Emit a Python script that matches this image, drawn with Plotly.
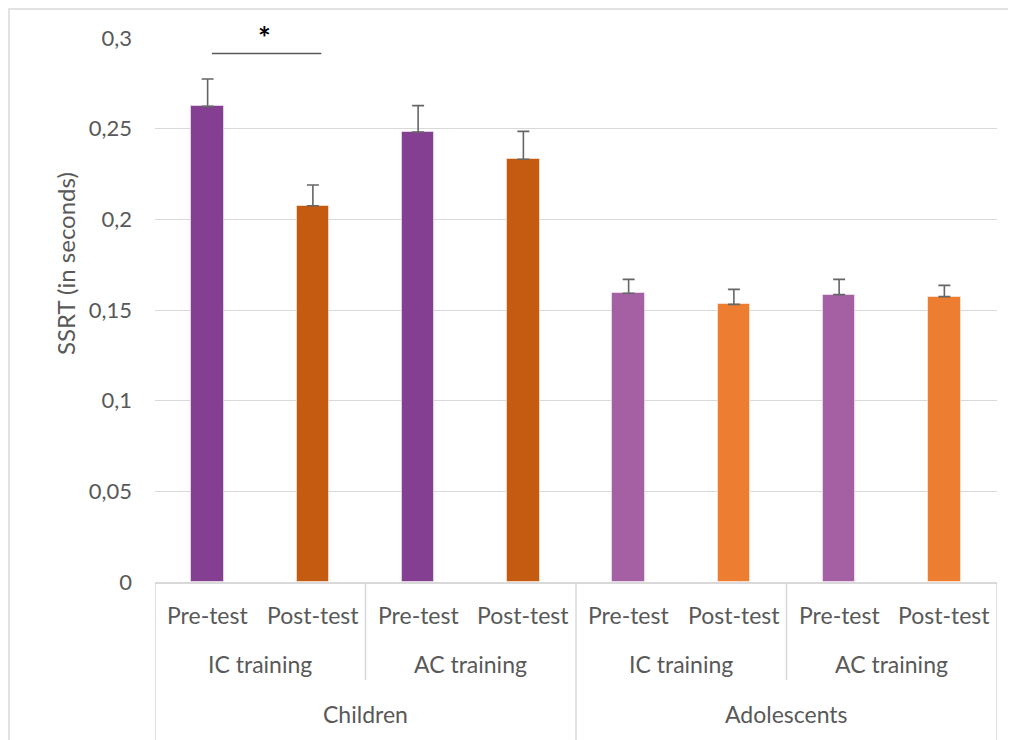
import plotly.graph_objects as go

# ---- data ----
age_groups = ["Children", "Adolescents"]
trainings = ["IC training", "AC training"]
phases = ["Pre-test", "Post-test"]

children_pre = [0.2623, 0.2482]
children_post = [0.2075, 0.2331]
children_pre_err = [0.0151, 0.0145]
children_post_err = [0.0114, 0.0154]

adol_pre = [0.1592, 0.1585]
adol_post = [0.1531, 0.1574]
adol_pre_err = [0.0077, 0.0084]
adol_post_err = [0.0083, 0.0062]

y_ticks = [0, 0.05, 0.1, 0.15, 0.2, 0.25, 0.3]
y_tick_labels = ["0", "0,05", "0,1", "0,15", "0,2", "0,25", "0,3"]
y_title = "SSRT (in seconds)"

colors = {
    ("Children", "Pre-test"): "#853F92",
    ("Children", "Post-test"): "#C55A11",
    ("Adolescents", "Pre-test"): "#A460A3",
    ("Adolescents", "Post-test"): "#ED7D31",
}

values = {
    ("Children", "Pre-test"): (children_pre, children_pre_err),
    ("Children", "Post-test"): (children_post, children_post_err),
    ("Adolescents", "Pre-test"): (adol_pre, adol_pre_err),
    ("Adolescents", "Post-test"): (adol_post, adol_post_err),
}

FONT = "Lato, 'Open Sans', sans-serif"
TXT = "#595959"
GRID = "#D9D9D9"

fig = go.Figure()

for ai, age in enumerate(age_groups):
    for pi, ph in enumerate(phases):
        vals, errs = values[(age, ph)]
        xs = [ai * 4 + ti * 2 + pi for ti in range(len(trainings))]
        fig.add_trace(go.Bar(
            x=xs, y=vals, width=0.31,
            marker=dict(color=colors[(age, ph)],
                        line=dict(color="rgba(255,255,255,0.5)", width=1)),
            error_y=dict(type="data", array=errs, symmetric=False,
                         arrayminus=[0] * len(errs),
                         color="#666666", thickness=1.6, width=6),
            showlegend=False, hoverinfo="skip",
        ))

shapes = []
annotations = []

def py(p):  # viewport pixel y -> paper
    return (582 - p) / 544

def px(p):  # viewport pixel x -> paper
    return (p - 155) / 842

lab_font = dict(size=23, color=TXT, family=FONT)
for i in range(8):
    annotations.append(dict(x=i, y=py(615), xref="x", yref="paper",
                            xanchor="center", yanchor="middle",
                            text=phases[i % 2], showarrow=False, font=lab_font))
for j in range(4):
    annotations.append(dict(x=j * 2 + 0.5, y=py(664), xref="x", yref="paper",
                            xanchor="center", yanchor="middle",
                            text=trainings[j % 2], showarrow=False, font=lab_font))
for k in range(2):
    annotations.append(dict(x=k * 4 + 1.5, y=py(714), xref="x", yref="paper",
                            xanchor="center", yanchor="middle",
                            text=age_groups[k], showarrow=False, font=lab_font))

# y-axis title (placed as in the reference, above the axis centre)
annotations.append(dict(x=px(66), y=py(264), xref="paper", yref="paper",
                        xanchor="center", yanchor="middle", textangle=-90,
                        text=y_title, showarrow=False,
                        font=dict(size=24, color=TXT, family=FONT)))

for xb in [-0.5, 3.5, 7.5]:
    shapes.append(dict(type="line", xref="x", yref="paper", x0=xb, x1=xb,
                       y0=0, y1=py(760), line=dict(color=GRID, width=1.5)))
for xb in [1.5, 5.5]:
    shapes.append(dict(type="line", xref="x", yref="paper", x0=xb, x1=xb,
                       y0=0, y1=py(680), line=dict(color=GRID, width=1.5)))

shapes.append(dict(type="rect", xref="paper", yref="paper",
                   x0=px(9), x1=px(1040), y0=py(770), y1=py(9),
                   line=dict(color=GRID, width=1.5), fillcolor="rgba(0,0,0,0)"))

shapes.append(dict(type="line", xref="x", yref="y", x0=0.04, x1=1.08,
                   y0=0.2915, y1=0.2915, line=dict(color="#595959", width=1.5)))
annotations.append(dict(x=0.545, y=0.2915, xref="x", yref="y", text="<b>*</b>",
                        showarrow=False, yanchor="bottom", yshift=-4,
                        font=dict(size=30, color="#000000", family=FONT)))

fig.update_layout(
    width=1008, height=732,
    margin=dict(l=147, r=19, t=30, b=158),
    paper_bgcolor="white", plot_bgcolor="white",
    bargap=0,
    shapes=shapes, annotations=annotations,
    xaxis=dict(range=[-0.5, 7.5], showticklabels=False, showgrid=False,
               zeroline=False, showline=True, linecolor=GRID, linewidth=1.5,
               ticks=""),
    yaxis=dict(range=[0, 0.3], tickvals=y_ticks, ticktext=y_tick_labels,
               showgrid=True, gridcolor=GRID, gridwidth=1.3, zeroline=False,
               showline=False, ticks="", ticklabelstandoff=22,
               tickfont=dict(size=22, color=TXT, family=FONT)),
)

fig.write_html("out.html")
